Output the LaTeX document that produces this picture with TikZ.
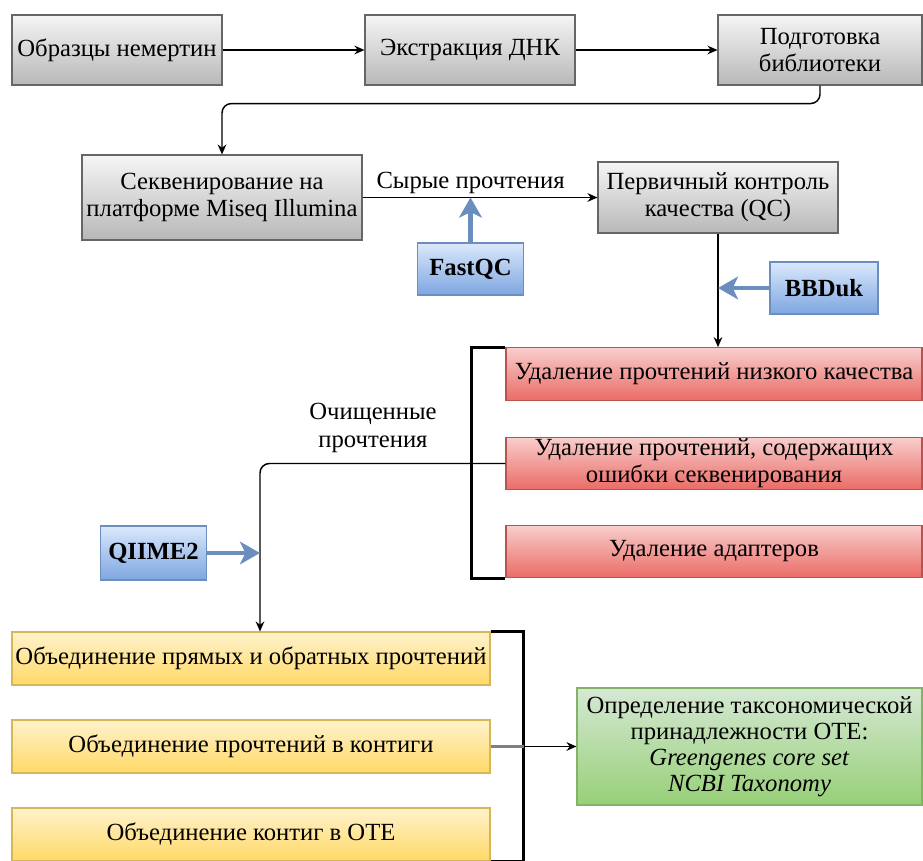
\documentclass[tikz,border=0pt]{standalone}
\usepackage{fontspec}
\setmainfont{Liberation Serif}
\newfontfamily\boxfont{Liberation Serif}
\usetikzlibrary{arrows.meta,positioning,calc}
\definecolor{grayt}{HTML}{F5F5F5}
\definecolor{grayb}{HTML}{B8B8B8}
\definecolor{grayd}{HTML}{666666}
\definecolor{redt}{HTML}{F8CECC}
\definecolor{redb}{HTML}{EA6B66}
\definecolor{redd}{HTML}{B85450}
\definecolor{yelt}{HTML}{FFF2CC}
\definecolor{yelb}{HTML}{FFD966}
\definecolor{yeld}{HTML}{D6B656}
\definecolor{grnt}{HTML}{D5E8D4}
\definecolor{grnb}{HTML}{97D077}
\definecolor{grnd}{HTML}{82B366}
\definecolor{blut}{HTML}{DAE8FC}
\definecolor{blub}{HTML}{7EA6E0}
\definecolor{blud}{HTML}{6C8EBF}
\tikzset{
  >={Stealth[length=7.5pt,width=6.5pt]},
  box/.style={draw,line width=0.8pt,minimum width=157.5pt,minimum height=52.5pt,inner sep=1pt,align=center,font=\boxfont\fontsize{18.5}{20.5}\selectfont},
  gbox/.style={box,draw=grayd,top color=grayt,bottom color=grayb},
  rbox/.style={box,draw=redd,top color=redt,bottom color=redb,minimum width=312pt,minimum height=39.5pt},
  ybox/.style={box,draw=yeld,top color=yelt,bottom color=yelb,minimum width=358.5pt,minimum height=39.75pt},
  grbox/.style={box,draw=grnd,top color=grnt,bottom color=grnb},
  tbox/.style={box,draw=blud,top color=blut,bottom color=blub,minimum width=79pt,minimum height=39pt,font=\boxfont\fontsize{18.5}{20.5}\selectfont\bfseries},
  flow/.style={->,line width=1.1pt,rounded corners=7pt},
  tool/.style={-{Stealth[length=15pt,width=17pt,inset=4pt]},line width=3.5pt,draw=blud},
  brk/.style={line width=2.2pt},
  lbl/.style={font=\boxfont\fontsize{18.5}{20.5}\selectfont,align=center,inner sep=2pt},
}
\begin{document}
\begin{tikzpicture}[x=0.75pt,y=-0.75pt]
  \useasboundingbox (0,0) rectangle (923,860);
  % first row
  \node[gbox] (obr) at (117,50) {Образцы немертин};
  \node[gbox] (dnk) at (470,50) {Экстракция ДНК};
  \node[gbox,minimum width=153pt] (lib) at (820,50) {Подготовка\\библиотеки};
  \draw[flow] (obr) -- (dnk);
  \draw[flow] (dnk) -- (lib);
  % sequencing and QC
  \node[gbox,minimum width=210pt,minimum height=63.75pt] (seq) at (222,197.5) {Секвенирование на\\платформе Miseq Illumina};
  \node[gbox,minimum width=180pt,minimum height=53.25pt] (qc) at (718,197.5) {Первичный контроль\\качества (QC)};
  \draw[flow] (lib.south) -- ++(0,18) -| (seq.north);
  \draw[flow] (seq) -- node[lbl,above,pos=0.46] (raw) {Сырые прочтения} (qc);
  \node[tbox] (fqc) at (470.5,269) {FastQC};
  \node[tbox,minimum width=81pt] (bbd) at (824,288) {BBDuk};
  \draw[tool] (fqc.north) -- (fqc.north |- seq.east);
  % filtering
  \node[rbox] (rm1) at (714,374) {Удаление прочтений низкого качества};
  \node[rbox] (rm2) at (714,463.5) {Удаление прочтений, содержащих\\ошибки секвенирования};
  \node[rbox] (rm3) at (714,551.5) {Удаление адаптеров};
  \draw[flow] (qc.south) -- (qc.south |- rm1.north);
  \draw[tool] (bbd.west) -- (bbd.west -| qc.south);
  \draw[brk] (rm1.north west) -- ++(-34,0) |- (rm3.south west);
  % cleaned reads
  \node[tbox,minimum width=80pt,minimum height=40.5pt] (qim) at (153.5,553) {QIIME2};
  \coordinate (cp) at (260,553);
  \node[ybox] (mg1) at (251,658.5) {Объединение прямых и обратных прочтений};
  \node[ybox] (mg2) at (251,746.5) {Объединение прочтений в контиги};
  \node[ybox] (mg3) at (251,834.5) {Объединение контиг в ОТЕ};
  \draw[flow] (rm2.west) -| (cp |- mg1.north);
  \node[lbl] (cln) at (373,428) {Очищенные\\прочтения};
  \draw[tool] (qim.east) -- (cp);
  % taxonomy
  \node[grbox,minimum width=258.75pt,minimum height=87.75pt,font=\boxfont\fontsize{18.5}{19.5}\selectfont] (tax) at (749.5,746.5)
    {Определение таксономической\\принадлежности ОТЕ:\\\textit{Greengenes core set}\\\textit{NCBI Taxonomy}};
  \coordinate (yb) at ($(mg1.north east)+(33,0)$);
  \draw[brk] (mg1.north east) -- (yb) |- (mg3.south east);
  \draw[line width=2.2pt,draw=gray] (mg2.east) -- (mg2.east -| yb);
  \draw[flow] (mg2.east -| yb) -- (tax.west);
\end{tikzpicture}
\end{document}
